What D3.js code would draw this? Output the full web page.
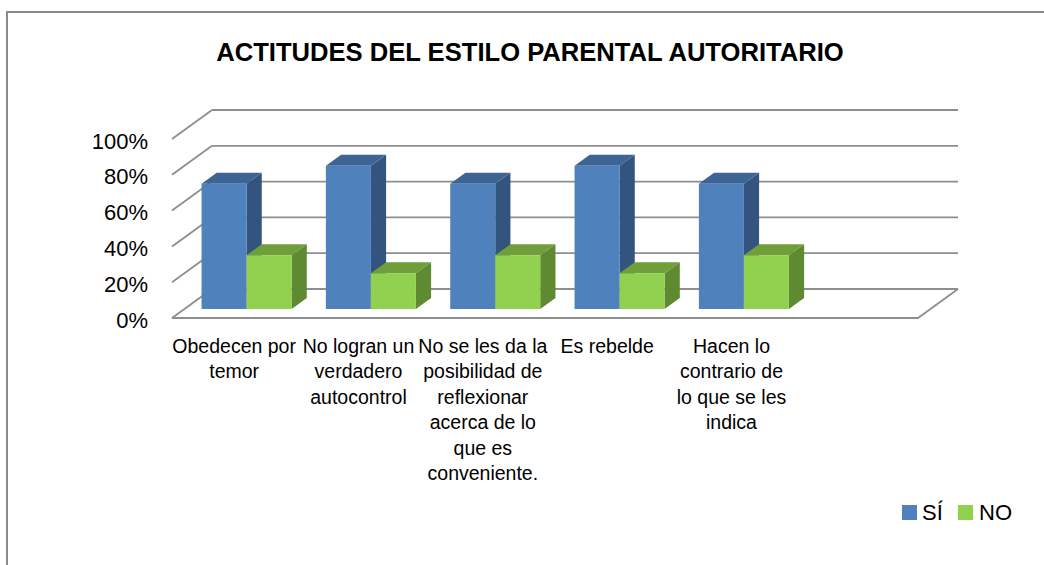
<!DOCTYPE html>
<html>
<head>
<meta charset="utf-8">
<script src="https://cdn.jsdelivr.net/npm/d3@7"></script>
<style>
  html, body { margin: 0; padding: 0; background: #fff; }
  svg { display: block; }
  text { font-family: "Liberation Sans", Arial, sans-serif; fill: #000; }
</style>
</head>
<body>
<svg id="chart" width="1044" height="565"></svg>
<script>
// ---- data ----
const title = "ACTITUDES DEL ESTILO PARENTAL AUTORITARIO";
const categories = [
  "Obedecen por temor",
  "No logran un verdadero autocontrol",
  "No se les da la posibilidad de reflexionar acerca de lo que es conveniente.",
  "Es rebelde",
  "Hacen lo contrario de lo que se les indica"
];
const categoryLines = [
  ["Obedecen por", "temor"],
  ["No logran un", "verdadero", "autocontrol"],
  ["No se les da la", "posibilidad de", "reflexionar", "acerca de lo", "que es", "conveniente."],
  ["Es rebelde"],
  ["Hacen lo", "contrario de", "lo que se les", "indica"]
];
const seriesNames = ["SÍ", "NO"];
const siValues = [0.70, 0.80, 0.70, 0.80, 0.70];
const noValues = [0.30, 0.20, 0.30, 0.20, 0.30];
const tickValues = [0, 0.2, 0.4, 0.6, 0.8, 1.0];
const slotCount = 6; // the category axis has one empty slot at the end

// ---- layout ----
const svg = d3.select("#chart");
const frontLeft = 172, frontRight = 918, floorY = 318;
const depthDX = 40, depthDY = -29;          // oblique depth vector (z: 0 front -> 1 back)
const barZ0 = 0.31, barZ1 = 0.69;

const x = d3.scaleBand().domain(d3.range(slotCount)).range([frontLeft, frontRight]).paddingInner(0).paddingOuter(0);
const xSub = d3.scaleBand().domain(seriesNames).range([0, x.bandwidth()]).paddingInner(0).paddingOuter(0.381);
const y = d3.scaleLinear().domain([0, 1]).range([floorY, floorY - 179]);

const P = (px, py, z) => [px + depthDX * z, py + depthDY * z];
const poly = pts => pts.map(p => p.join(",")).join(" ");

const colors = {
  "SÍ": { front: "#4F81BD", side: "#33547E", top: "#3D6593" },
  "NO": { front: "#92D050", side: "#5E8A31", top: "#6F9E3B" }
};
const gridColor = "#8e8e8e";

// frame
svg.append("rect").attr("x", 7).attr("y", 12).attr("width", 2000).attr("height", 2000)
  .attr("fill", "none").attr("stroke", "#8a8a8a").attr("stroke-width", 2);

// title
svg.append("text").attr("x", 530).attr("y", 61).attr("text-anchor", "middle")
  .attr("font-size", 25.6).attr("font-weight", "bold").text(title);

// back wall gridlines and left wall diagonals
const g = svg.append("g");
tickValues.forEach(v => {
  const a = P(frontLeft, y(v), 0), b = P(frontLeft, y(v), 1), c = P(frontRight, y(v), 1);
  g.append("line").attr("x1", a[0]).attr("y1", a[1]).attr("x2", b[0]).attr("y2", b[1])
    .attr("stroke", gridColor).attr("stroke-width", 1.8);
  g.append("line").attr("x1", b[0]).attr("y1", b[1]).attr("x2", c[0]).attr("y2", c[1])
    .attr("stroke", gridColor).attr("stroke-width", 1.8);
});
// floor front edge + right edge
{
  const a = P(frontLeft, y(0), 0), b = P(frontRight, y(0), 0), c = P(frontRight, y(0), 1);
  g.append("polyline").attr("points", poly([a, b, c])).attr("fill", "none")
    .attr("stroke", gridColor).attr("stroke-width", 1.8);
}

// y tick labels
svg.append("g").selectAll("text").data(tickValues).join("text")
  .attr("x", 148).attr("y", d => y(d) + 9.5).attr("text-anchor", "end")
  .attr("font-size", 22).text(d => d3.format(".0%")(d));

// bars
const bars = svg.append("g");
categories.forEach((c, i) => {
  [["SÍ", siValues[i]], ["NO", noValues[i]]].forEach(([s, v]) => {
    const x0 = x(i) + xSub(s), x1 = x0 + xSub.bandwidth();
    const yb = y(0), yt = y(v);
    const col = colors[s];
    const f = [P(x0, yt, barZ0), P(x1, yt, barZ0), P(x1, yb, barZ0), P(x0, yb, barZ0)];
    const side = [P(x1, yt, barZ0), P(x1, yt, barZ1), P(x1, yb, barZ1), P(x1, yb, barZ0)];
    const top = [P(x0, yt, barZ0), P(x0, yt, barZ1), P(x1, yt, barZ1), P(x1, yt, barZ0)];
    bars.append("polygon").attr("points", poly(side)).attr("fill", col.side);
    bars.append("polygon").attr("points", poly(top)).attr("fill", col.top);
    bars.append("polygon").attr("points", poly(f)).attr("fill", col.front);
  });
});

// category labels
const lab = svg.append("g");
categoryLines.forEach((lines, i) => {
  const t = lab.append("text").attr("text-anchor", "middle").attr("font-size", 19.5);
  lines.forEach((ln, k) => {
    t.append("tspan").attr("x", x(i) + x.bandwidth() / 2).attr("y", 353 + k * 25.4).text(ln);
  });
});

// legend
const leg = svg.append("g");
const legItems = [
  { name: "SÍ", sx: 902, tx: 922 },
  { name: "NO", sx: 958, tx: 979 }
];
legItems.forEach(it => {
  leg.append("rect").attr("x", it.sx).attr("y", 505).attr("width", 15).attr("height", 15)
    .attr("fill", colors[it.name].front);
  leg.append("text").attr("x", it.tx).attr("y", 520).attr("font-size", 22).text(it.name);
});
</script>
</body>
</html>
